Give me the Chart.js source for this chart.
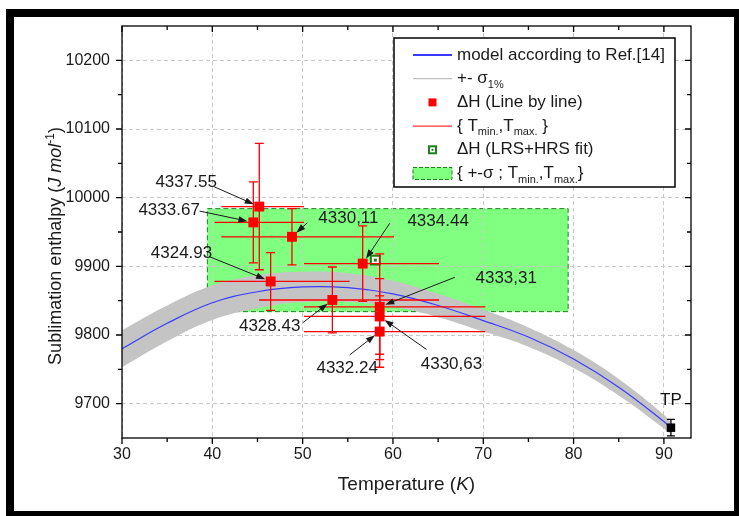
<!DOCTYPE html>
<html>
<head>
<meta charset="utf-8">
<title>Sublimation enthalpy</title>
<script src="https://cdn.jsdelivr.net/npm/chart.js@4.4.0/dist/chart.umd.min.js"></script>
<style>
  html, body { margin: 0; padding: 0; background: #fff; }
  #wrap { width: 739px; height: 516px; }
</style>
</head>
<body>
<div id="wrap"><canvas id="enthalpyChart" width="739" height="516"></canvas></div>
<script>
// model according to Ref.[14]
const modelT = [30, 35, 40, 45, 50, 55, 60, 65, 70, 75, 80, 85, 90, 90.7];
const modelH = [9780, 9817, 9847, 9863, 9870, 9869, 9860, 9843, 9821, 9797, 9765, 9724, 9674, 9665];
// +- sigma(1%) band around the model
const bandHigh = [9807, 9843, 9872, 9887, 9892, 9890, 9879, 9860, 9837, 9811, 9778, 9736, 9684, 9674];
const bandLow = [9753, 9791, 9822, 9839, 9848, 9848, 9841, 9826, 9805, 9783, 9752, 9712, 9664, 9656];

// line by line fits
const lineT = [45.2, 44.54, 48.82, 46.46, 53.29, 56.65, 58.53, 58.53, 58.53];
const lineH = [9987, 9964, 9943, 9878, 9851, 9904, 9841, 9827, 9805];
const lineErr = [92, 59, 41, 42, 48, 55, 77, 55, 52];
const lineTmin = [41.0, 40.25, 41.0, 40.25, 45.18, 50.15, 50.15, 50.15, 50.15];
const lineTmax = [50.15, 50.15, 60.12, 55.2, 65.1, 65.1, 70.23, 70.23, 70.23];
const lineLabels = ['4337.55', '4333.67', '4330,11', '4324.93', '4328.43', '4334.44', '4333,31', '4330,63', '4332.24'];

// LRS+HRS fit
const fitT = [58.05];
const fitH = [9909];
const fitSigma = [75];
const fitTmin = [39.45];
const fitTmax = [79.4];

// triple point
const tpT = [90.78];
const tpH = [9665];
const tpErr = [12];

const xTicks = [30, 40, 50, 60, 70, 80, 90];
const xMinor = [35, 45, 55, 65, 75, 85];
const yTicks = [9700, 9800, 9900, 10000, 10100, 10200];
const yMinor = [9750, 9850, 9950, 10050, 10150];

// where the value labels sit and where their arrows start (axis units)
const labelAt = [[37.1, 10023], [35.22, 9982], [55.07, 9970], [36.59, 9919], [46.35, 9813],
                 [65.0, 9965], [72.54, 9882.5], [66.48, 9758], [54.93, 9751.5]];
const arrowFrom = [[40.18, 10016], [38.59, 9980.5], [50.52, 9963.5], [39.7, 9914], [50.03, 9818],
                   [59.64, 9962.6], [66.85, 9884], [63.71, 9779], [55.21, 9771]];

const FONT = "'Liberation Sans', Arial, sans-serif";
const RED = '#ff0000';
const GREEN_FILL = '#80ff80';
const GREEN_EDGE = '#1d7f1d';
const BLUE = '#3a3aff';
const GRAY = '#c4c4c4';

const zip = (xs, ys) => xs.map((x, i) => ({ x: x, y: ys[i] }));

function arrow(ctx, x0, y0, x1, y1) {
    const a = Math.atan2(y1 - y0, x1 - x0);
    const c = Math.cos(a), s = Math.sin(a);
    ctx.beginPath();
    ctx.moveTo(x0, y0);
    ctx.lineTo(x1 - 7 * c, y1 - 7 * s);
    ctx.stroke();
    ctx.beginPath();
    ctx.moveTo(x1, y1);
    ctx.lineTo(x1 - 9 * c + 3.2 * s, y1 - 9 * s - 3.2 * c);
    ctx.lineTo(x1 - 9 * c - 3.2 * s, y1 - 9 * s + 3.2 * c);
    ctx.closePath();
    ctx.fill();
}

// parts: [text, font, dy]
function richWidth(ctx, parts) {
    let w = 0;
    parts.forEach(p => { ctx.font = p[1]; w += ctx.measureText(p[0]).width; });
    return w;
}
function richText(ctx, parts, x, y) {
    parts.forEach(p => {
        ctx.font = p[1];
        ctx.fillText(p[0], x, y + (p[2] || 0));
        x += ctx.measureText(p[0]).width;
    });
}

const framePlugin = {
    id: 'frame',
    beforeDraw(chart) {
        const ctx = chart.ctx;
        const { x, y } = chart.scales;
        ctx.save();
        // black picture border
        ctx.fillStyle = '#000';
        ctx.fillRect(6, 9, 733, 507);
        ctx.fillStyle = '#fff';
        ctx.fillRect(14, 17, 720, 494);
        // +-sigma ; Tmin,Tmax box of the LRS+HRS fit
        for (let i = 0; i < fitT.length; i++) {
            const x0 = x.getPixelForValue(fitTmin[i]);
            const x1 = x.getPixelForValue(fitTmax[i]);
            const y0 = y.getPixelForValue(fitH[i] + fitSigma[i]);
            const y1 = y.getPixelForValue(fitH[i] - fitSigma[i]);
            ctx.fillStyle = GREEN_FILL;
            ctx.fillRect(x0, y0, x1 - x0, y1 - y0);
            ctx.strokeStyle = GREEN_EDGE;
            ctx.lineWidth = 1;
            ctx.setLineDash([5, 3]);
            ctx.strokeRect(x0, y0, x1 - x0, y1 - y0);
            ctx.setLineDash([]);
        }
        ctx.restore();
    },
    afterDatasetsDraw(chart) {
        const ctx = chart.ctx;
        const { x, y } = chart.scales;
        ctx.save();
        // error bars of the line by line results
        ctx.strokeStyle = RED;
        ctx.lineWidth = 1.3;
        for (let i = 0; i < lineT.length; i++) {
            const px = x.getPixelForValue(lineT[i]);
            const py = y.getPixelForValue(lineH[i]);
            const top = y.getPixelForValue(lineH[i] + lineErr[i]);
            const bot = y.getPixelForValue(lineH[i] - lineErr[i]);
            ctx.beginPath();
            ctx.moveTo(px, top); ctx.lineTo(px, bot);
            ctx.moveTo(px - 4.5, top); ctx.lineTo(px + 4.5, top);
            ctx.moveTo(px - 4.5, bot); ctx.lineTo(px + 4.5, bot);
            ctx.moveTo(x.getPixelForValue(lineTmin[i]), py);
            ctx.lineTo(x.getPixelForValue(lineTmax[i]), py);
            ctx.stroke();
        }
        // centre dot of the hollow fit marker
        ctx.fillStyle = GREEN_EDGE;
        for (let i = 0; i < fitT.length; i++) {
            ctx.fillRect(x.getPixelForValue(fitT[i]) - 1.5, y.getPixelForValue(fitH[i]) - 1.5, 3, 3);
        }
        // triple point error bar
        ctx.strokeStyle = '#000';
        ctx.lineWidth = 1.3;
        for (let i = 0; i < tpT.length; i++) {
            const px = x.getPixelForValue(tpT[i]);
            const top = y.getPixelForValue(tpH[i] + tpErr[i]);
            const bot = y.getPixelForValue(tpH[i] - tpErr[i]);
            ctx.beginPath();
            ctx.moveTo(px, top); ctx.lineTo(px, bot);
            ctx.moveTo(px - 4, top); ctx.lineTo(px + 4, top);
            ctx.moveTo(px - 4, bot); ctx.lineTo(px + 4, bot);
            ctx.stroke();
            ctx.fillStyle = '#111';
            ctx.font = '17px ' + FONT;
            ctx.textAlign = 'center';
            ctx.textBaseline = 'alphabetic';
            ctx.fillText('TP', px, y.getPixelForValue(tpH[i]) - 23);
        }
        ctx.restore();
    },
    afterDraw(chart) {
        const ctx = chart.ctx;
        const { x, y } = chart.scales;
        const a = chart.chartArea;
        ctx.save();

        // value labels with arrows
        ctx.fillStyle = '#1a1a1a';
        ctx.strokeStyle = '#1a1a1a';
        ctx.lineWidth = 1;
        ctx.font = '17px ' + FONT;
        ctx.textAlign = 'center';
        ctx.textBaseline = 'middle';
        for (let i = 0; i < lineLabels.length; i++) {
            ctx.fillText(lineLabels[i], x.getPixelForValue(labelAt[i][0]), y.getPixelForValue(labelAt[i][1]));
            const x0 = x.getPixelForValue(arrowFrom[i][0]);
            const y0 = y.getPixelForValue(arrowFrom[i][1]);
            const px = x.getPixelForValue(lineT[i]);
            const py = y.getPixelForValue(lineH[i]);
            const d = Math.hypot(px - x0, py - y0);
            arrow(ctx, x0, y0, px - (px - x0) / d * 6, py - (py - y0) / d * 6);
        }

        // axis frame and ticks (left/bottom out, top/right in)
        ctx.strokeStyle = '#000';
        ctx.lineWidth = 1.3;
        ctx.strokeRect(a.left, a.top, a.right - a.left, a.bottom - a.top);
        ctx.beginPath();
        const tickX = (v, len) => {
            const p = x.getPixelForValue(v);
            ctx.moveTo(p, a.bottom); ctx.lineTo(p, a.bottom + len);
            ctx.moveTo(p, a.top); ctx.lineTo(p, a.top + len);
        };
        const tickY = (v, len) => {
            const p = y.getPixelForValue(v);
            ctx.moveTo(a.left, p); ctx.lineTo(a.left - len, p);
            ctx.moveTo(a.right, p); ctx.lineTo(a.right - len, p);
        };
        xTicks.forEach(v => tickX(v, 6));
        xMinor.forEach(v => tickX(v, 4));
        yTicks.forEach(v => tickY(v, 6));
        yMinor.forEach(v => tickY(v, 4));
        ctx.stroke();

        // axis titles
        ctx.fillStyle = '#1a1a1a';
        ctx.textAlign = 'left';
        ctx.textBaseline = 'alphabetic';
        const xt = [['Temperature (', '19px ' + FONT], ['K', 'italic 19px ' + FONT], [')', '19px ' + FONT]];
        richText(ctx, xt, (a.left + a.right) / 2 - richWidth(ctx, xt) / 2, 490);
        const yt = [['Sublimation enthalpy (', '18px ' + FONT], ['J mol', 'italic 18px ' + FONT],
                    ['-1', '12px ' + FONT, -7], [')', '18px ' + FONT]];
        ctx.translate(61, (a.top + a.bottom) / 2 + 14);
        ctx.rotate(-Math.PI / 2);
        richText(ctx, yt, -richWidth(ctx, yt) / 2, 0);
        ctx.setTransform(1, 0, 0, 1, 0, 0);

        // legend
        const bx = 394, by = 38, bw = 281, bh = 149;
        ctx.fillStyle = '#fff';
        ctx.fillRect(bx, by, bw, bh);
        ctx.strokeStyle = '#000';
        ctx.lineWidth = 1.5;
        ctx.strokeRect(bx, by, bw, bh);
        const sx0 = bx + 19, sx1 = bx + 58, sxm = bx + 38.5, tx = bx + 63;
        const rowY = i => by + 17 + i * 23.7;
        const big = '17px ' + FONT, sub = '11px ' + FONT;
        ctx.textBaseline = 'middle';

        ctx.lineWidth = 2;
        ctx.strokeStyle = BLUE;
        ctx.beginPath(); ctx.moveTo(sx0, rowY(0)); ctx.lineTo(sx1, rowY(0)); ctx.stroke();
        ctx.lineWidth = 1;
        ctx.strokeStyle = '#b0b0b0';
        ctx.beginPath(); ctx.moveTo(sx0, rowY(1)); ctx.lineTo(sx1, rowY(1)); ctx.stroke();
        ctx.fillStyle = RED;
        ctx.fillRect(sxm - 4, rowY(2) - 4, 8, 8);
        ctx.strokeStyle = RED;
        ctx.beginPath(); ctx.moveTo(sx0, rowY(3)); ctx.lineTo(sx1, rowY(3)); ctx.stroke();
        ctx.lineWidth = 2;
        ctx.strokeStyle = GREEN_EDGE;
        ctx.strokeRect(sxm - 3.5, rowY(4) - 3.5, 7, 7);
        ctx.fillStyle = GREEN_EDGE;
        ctx.fillRect(sxm - 1, rowY(4) - 1, 2, 2);
        ctx.fillStyle = GREEN_FILL;
        ctx.fillRect(sx0, rowY(5) - 6, sx1 - sx0, 12);
        ctx.lineWidth = 1;
        ctx.setLineDash([4, 2]);
        ctx.strokeRect(sx0, rowY(5) - 6, sx1 - sx0, 12);
        ctx.setLineDash([]);

        ctx.fillStyle = '#1a1a1a';
        richText(ctx, [['model according to Ref.[14]', big]], tx, rowY(0));
        richText(ctx, [['+- \u03c3', big], ['1%', sub, 6]], tx, rowY(1));
        richText(ctx, [['\u0394H (Line by line)', big]], tx, rowY(2));
        richText(ctx, [['{ T', big], ['min.', sub, 6], [',T', big], ['max.', sub, 6], [' }', big]], tx, rowY(3));
        richText(ctx, [['\u0394H (LRS+HRS fit)', big]], tx, rowY(4));
        richText(ctx, [['{ +-\u03c3 ; T', big], ['min.', sub, 6], [',T', big], ['max.', sub, 6], ['}', big]], tx, rowY(5));

        ctx.restore();
    }
};

Chart.defaults.font.family = FONT;

new Chart(document.getElementById('enthalpyChart'), {
    type: 'scatter',
    data: {
        datasets: [
            {
                label: '\u0394H (Line by line)',
                data: zip(lineT, lineH),
                pointStyle: 'rect',
                pointRadius: 7,
                backgroundColor: RED,
                borderWidth: 0
            },
            {
                label: '\u0394H (LRS+HRS fit)',
                data: zip(fitT, fitH),
                pointStyle: 'rect',
                pointRadius: 6.3,
                backgroundColor: '#fff',
                borderColor: GREEN_EDGE,
                borderWidth: 2
            },
            {
                label: 'TP',
                data: zip(tpT, tpH),
                pointStyle: 'rect',
                pointRadius: 6,
                backgroundColor: '#000',
                borderWidth: 0
            },
            {
                label: 'model according to Ref.[14]',
                data: zip(modelT, modelH),
                showLine: true,
                borderColor: BLUE,
                borderWidth: 1.2,
                pointRadius: 0,
                tension: 0.4
            },
            {
                label: '+- sigma',
                data: zip(modelT, bandHigh),
                showLine: true,
                borderWidth: 0,
                borderColor: GRAY,
                pointRadius: 0,
                tension: 0.4,
                fill: '+1',
                backgroundColor: GRAY
            },
            {
                label: '- sigma',
                data: zip(modelT, bandLow),
                showLine: true,
                borderWidth: 0,
                borderColor: GRAY,
                pointRadius: 0,
                tension: 0.4
            }
        ]
    },
    options: {
        responsive: false,
        animation: false,
        events: [],
        layout: { padding: { top: 26, right: 48, left: 0, bottom: 0 } },
        plugins: {
            legend: { display: false },
            tooltip: { enabled: false }
        },
        scales: {
            x: {
                type: 'linear',
                min: 30,
                max: 93,
                afterBuildTicks: s => { s.ticks = xTicks.map(v => ({ value: v })); },
                afterFit: s => { s.height = 78; },
                ticks: { color: '#1a1a1a', font: { size: 16 }, padding: 7, callback: v => String(v) },
                grid: { color: '#c8c8c8', lineWidth: 1, drawTicks: false },
                border: { display: false, dash: [4, 3] }
            },
            y: {
                type: 'linear',
                min: 9650,
                max: 10250,
                afterBuildTicks: s => { s.ticks = yTicks.map(v => ({ value: v })); },
                afterFit: s => { s.width = 122; },
                ticks: { color: '#1a1a1a', font: { size: 16 }, padding: 12, callback: v => String(v) },
                grid: { color: '#c8c8c8', lineWidth: 1, drawTicks: false },
                border: { display: false, dash: [4, 3] }
            }
        }
    },
    plugins: [framePlugin]
});
</script>
</body>
</html>
